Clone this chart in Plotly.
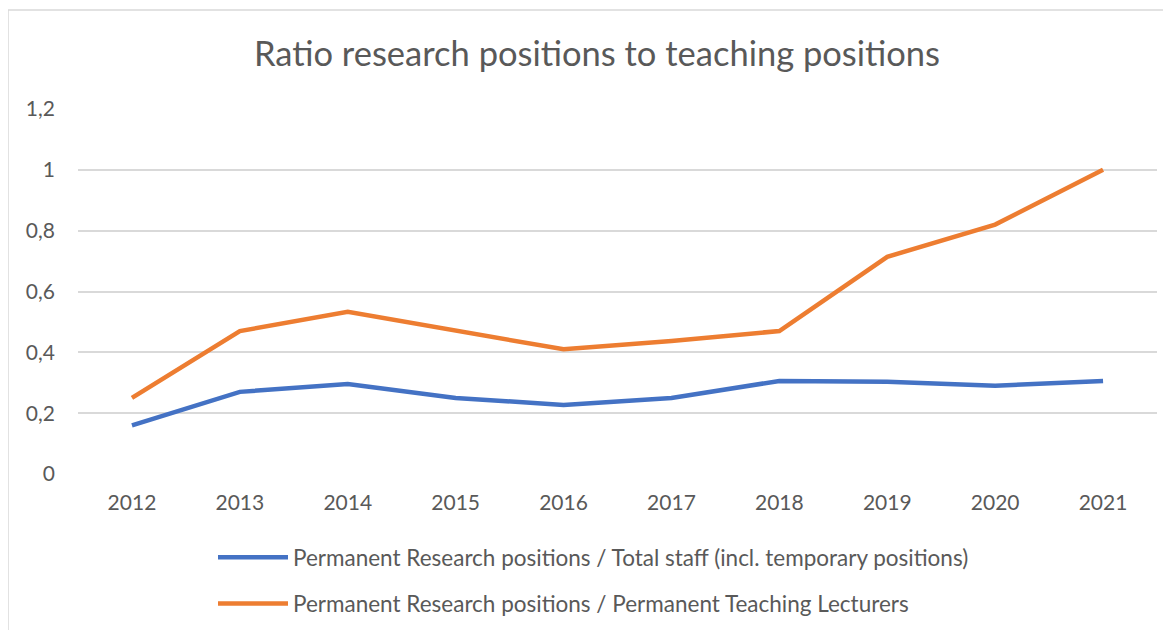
import plotly.graph_objects as go

years = ["2012", "2013", "2014", "2015", "2016", "2017", "2018", "2019", "2020", "2021"]
total_staff_ratio = [0.16, 0.27, 0.296, 0.25, 0.227, 0.25, 0.306, 0.303, 0.29, 0.306]
teaching_ratio = [0.25, 0.47, 0.533, 0.47, 0.41, 0.4375, 0.47, 0.714, 0.82, 1.0]
ytick_values = [0, 0.2, 0.4, 0.6, 0.8, 1.0, 1.2]
ytick_labels = ["0", "0,2", "0,4", "0,6", "0,8", "1", "1,2"]
name_blue = "Permanent Research positions / Total staff (incl. temporary positions)"
name_orange = "Permanent Research positions / Permanent Teaching Lecturers"

FONT = "Lato"
TXT = "#595959"

fig = go.Figure()
fig.add_trace(go.Scatter(x=years, y=total_staff_ratio, mode="lines", name=name_blue,
                         legendgroup="a",
                         line=dict(color="#4472C4", width=4.5)))
fig.add_trace(go.Scatter(x=years, y=teaching_ratio, mode="lines", name=name_orange,
                         legendgroup="b",
                         line=dict(color="#ED7D31", width=4.5)))

OFF = 8  # page body margin
W, H = 1171 - OFF, 630 - OFF
L, R, T, B = 78 - OFF, 1157 - OFF, 109 - OFF, 474 - OFF
pw, ph = R - L, B - T

def px(x):
    return (x - OFF - L) / pw

def py(y):
    return (B - (y - OFF)) / ph

fig.update_layout(
    width=W, height=H,
    margin=dict(l=L, r=W - R, t=T, b=H - B, pad=0, autoexpand=False),
    paper_bgcolor="white", plot_bgcolor="white",
    font=dict(family=FONT, color=TXT, size=21),
    title=dict(text="Ratio research positions to teaching positions",
               x=px(597), xref="paper", xanchor="center",
               y=1 - (54 - OFF) / H, yanchor="middle",
               font=dict(size=34.5, color=TXT, family=FONT)),
    xaxis=dict(type="category", range=[-0.5, 9.5], showgrid=False,
               showline=False, zeroline=False, ticks="",
               tickfont=dict(size=21, color=TXT), ticklabelstandoff=14),
    yaxis=dict(range=[0, 1.2], tickmode="array", tickvals=ytick_values,
               ticktext=ytick_labels, showgrid=True,
               gridcolor="#D9D9D9", gridwidth=1.5, zeroline=False,
               showline=False, ticks="",
               tickfont=dict(size=21, color=TXT), ticklabelstandoff=22),
    showlegend=True,
    legend=dict(orientation="v", x=px(213), xanchor="left",
                y=py(536), yanchor="top", itemwidth=70,
                tracegroupgap=14,
                font=dict(size=22.5, color=TXT, family=FONT),
                bgcolor="rgba(0,0,0,0)"),
    shapes=[
        dict(type="line", xref="paper", yref="paper",
             x0=px(8), x1=px(1171), y0=py(10), y1=py(10),
             line=dict(color="#D9D9D9", width=1.5)),
        dict(type="line", xref="paper", yref="paper",
             x0=px(8), x1=px(8), y0=py(10), y1=py(632),
             line=dict(color="#D9D9D9", width=1.5)),
    ],
)

fig.write_html("out.html")
